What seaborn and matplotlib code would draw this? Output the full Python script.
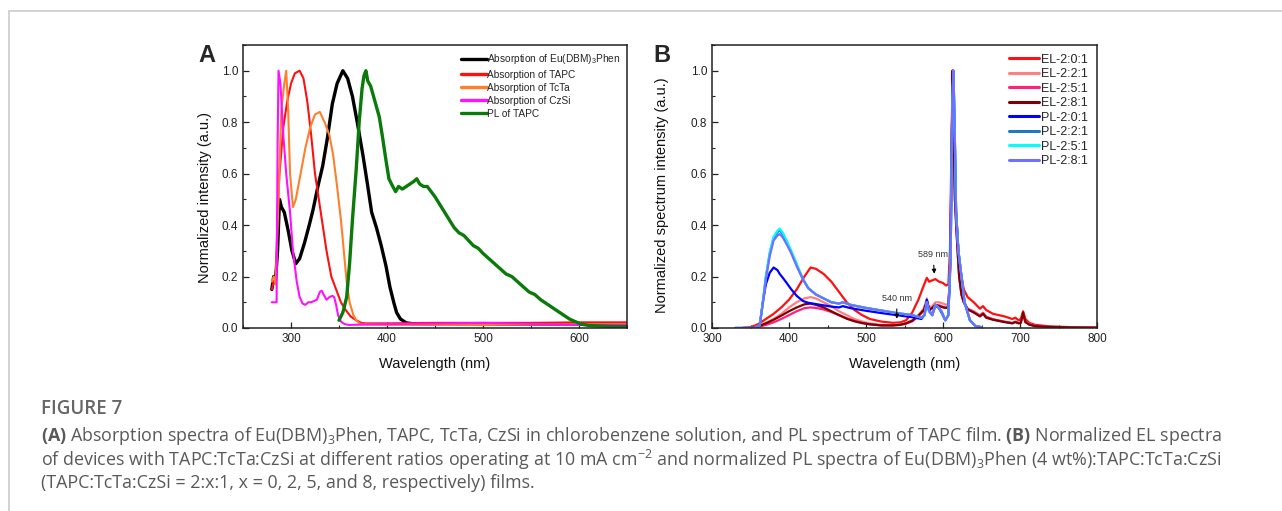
import numpy as np
import pandas as pd
import matplotlib
matplotlib.use("Agg")
import matplotlib.pyplot as plt
import seaborn as sns
from matplotlib.lines import Line2D
from matplotlib.ticker import MultipleLocator

# ------ DATA ------ #

# Panel A: absorption spectra + PL of TAPC
eu_x = [280, 282, 284, 286, 288, 290, 293, 297, 301, 305, 309, 314, 319, 323, 328, 333, 338, 343, 348, 354,
        359, 364, 369, 375, 380, 384, 389, 394, 399, 403, 407, 410, 414, 420, 430, 450, 500, 550, 600, 650]
eu_y = [0.15, 0.2, 0.19, 0.3, 0.5, 0.47, 0.45, 0.38, 0.3, 0.25, 0.27, 0.33, 0.4, 0.46, 0.55, 0.63, 0.74, 0.87, 0.95, 1.0,
        0.97, 0.9, 0.8, 0.67, 0.55, 0.45, 0.39, 0.32, 0.24, 0.16, 0.1, 0.06, 0.035, 0.02, 0.015, 0.015, 0.014, 0.015, 0.016, 0.016]

tapc_x = [280, 282, 284, 286, 288, 292, 296, 300, 304, 309, 313, 317, 321, 325, 329, 333, 337, 342, 347, 352,
          357, 362, 368, 373, 378, 400, 450, 500, 550, 600, 650]
tapc_y = [0.15, 0.18, 0.17, 0.45, 0.6, 0.78, 0.88, 0.95, 0.99, 1.0, 0.97, 0.88, 0.75, 0.6, 0.5, 0.4, 0.3, 0.2, 0.15, 0.1,
          0.07, 0.045, 0.03, 0.02, 0.018, 0.018, 0.02, 0.02, 0.02, 0.022, 0.022]

tcta_x = [280, 282, 284, 287, 290, 293, 295, 297, 299, 302, 305, 310, 315, 320, 325, 330, 335, 340, 344, 348,
          352, 355, 358, 361, 365, 368, 372, 400, 450, 500, 550, 600, 650]
tcta_y = [0.18, 0.2, 0.17, 0.5, 0.85, 0.95, 1.0, 0.85, 0.6, 0.47, 0.5, 0.6, 0.7, 0.78, 0.83, 0.84, 0.8, 0.75, 0.67, 0.55,
          0.42, 0.3, 0.18, 0.1, 0.05, 0.03, 0.015, 0.012, 0.012, 0.012, 0.013, 0.015, 0.015]

czsi_x = [280, 283, 285, 286, 287, 289, 292, 295, 299, 302, 306, 309, 312, 315, 318, 321, 324, 327, 330, 332,
          334, 337, 340, 343, 345, 347, 349, 352, 356, 360, 400, 450, 500, 550, 600, 650]
czsi_y = [0.1, 0.1, 0.1, 0.7, 1.0, 0.95, 0.75, 0.6, 0.45, 0.3, 0.18, 0.12, 0.095, 0.09, 0.1, 0.1, 0.105, 0.11, 0.14, 0.145,
          0.13, 0.11, 0.12, 0.125, 0.12, 0.09, 0.05, 0.025, 0.015, 0.012, 0.015, 0.017, 0.02, 0.016, 0.012, 0.012]

pl_x = [350, 354, 358, 361, 364, 368, 371, 374, 376, 378, 380, 383, 386, 389, 392, 395, 399, 402, 406, 409,
        412, 416, 420, 424, 428, 431, 434, 438, 442, 446, 450, 455, 460, 465, 470, 475, 480, 485, 490, 495,
        500, 506, 512, 518, 524, 530, 536, 542, 548, 554, 560, 566, 572, 578, 584, 590, 596, 602, 610, 620, 635, 650]
pl_y = [0.03, 0.06, 0.12, 0.25, 0.42, 0.62, 0.8, 0.93, 0.98, 1.0, 0.96, 0.94, 0.9, 0.86, 0.82, 0.75, 0.65, 0.58, 0.55, 0.53,
        0.55, 0.54, 0.55, 0.56, 0.57, 0.58, 0.56, 0.55, 0.55, 0.53, 0.51, 0.48, 0.45, 0.42, 0.39, 0.37, 0.36, 0.34, 0.32, 0.31,
        0.29, 0.27, 0.25, 0.23, 0.21, 0.2, 0.18, 0.16, 0.14, 0.13, 0.11, 0.095, 0.08, 0.065, 0.05, 0.035, 0.025, 0.015, 0.01, 0.008, 0.006, 0.005]

names_a = ["Absorption of Eu(DBM)$_3$Phen", "Absorption of TAPC", "Absorption of TcTa",
           "Absorption of CzSi", "PL of TAPC"]
colors_a = ["#000000", "#ff1010", "#ff7f2a", "#ff10ff", "#0a7a0a"]
widths_a = [2.4, 1.5, 1.5, 1.5, 2.4]

# Panel B: EL and PL spectra at TAPC:TcTa:CzSi = 2:x:1
el_x = [340, 350, 360, 370, 380, 390, 400, 410, 420, 428, 435, 445, 455, 465, 475, 485, 495, 505, 520, 535,
        545, 552, 560, 568, 575, 579, 582, 586, 590, 595, 600, 604, 607, 609, 611, 612.5, 614, 615.5, 617, 619,
        621, 624, 627, 632, 640, 648, 652, 656, 665, 680, 690, 694, 698, 701, 704, 707, 712, 720, 740, 770, 800]
el_201 = [0.0, 0.003, 0.015, 0.035, 0.055, 0.08, 0.11, 0.15, 0.2, 0.235, 0.23, 0.21, 0.18, 0.14, 0.1, 0.07, 0.05, 0.035, 0.025, 0.02,
          0.022, 0.03, 0.06, 0.11, 0.165, 0.195, 0.18, 0.185, 0.19, 0.18, 0.175, 0.165, 0.17, 0.3, 0.7, 1.0, 0.75, 0.55, 0.45, 0.35,
          0.25, 0.2, 0.15, 0.12, 0.1, 0.075, 0.085, 0.07, 0.055, 0.045, 0.035, 0.04, 0.03, 0.035, 0.065, 0.035, 0.02, 0.012, 0.006, 0.003, 0.002]
el_221 = [0.0, 0.0, 0.008, 0.02, 0.035, 0.055, 0.08, 0.1, 0.115, 0.12, 0.115, 0.1, 0.085, 0.065, 0.05, 0.035, 0.025, 0.018, 0.012, 0.012,
          0.015, 0.02, 0.03, 0.05, 0.075, 0.115, 0.08, 0.085, 0.1, 0.1, 0.095, 0.09, 0.095, 0.2, 0.6, 1.0, 0.7, 0.5, 0.4, 0.3,
          0.2, 0.13, 0.1, 0.075, 0.065, 0.05, 0.06, 0.045, 0.035, 0.025, 0.02, 0.025, 0.02, 0.022, 0.055, 0.025, 0.015, 0.008, 0.004, 0.002, 0.001]
el_251 = [0.0, 0.0, 0.004, 0.012, 0.022, 0.035, 0.05, 0.065, 0.077, 0.08, 0.078, 0.072, 0.062, 0.05, 0.038, 0.028, 0.02, 0.015, 0.01, 0.01,
          0.012, 0.017, 0.026, 0.045, 0.068, 0.105, 0.07, 0.075, 0.09, 0.088, 0.082, 0.078, 0.085, 0.2, 0.6, 1.0, 0.7, 0.5, 0.4, 0.3,
          0.2, 0.13, 0.1, 0.075, 0.062, 0.048, 0.058, 0.043, 0.033, 0.024, 0.019, 0.024, 0.019, 0.021, 0.052, 0.024, 0.014, 0.008, 0.004, 0.002, 0.001]
el_281 = [0.0, 0.0, 0.006, 0.018, 0.032, 0.048, 0.065, 0.08, 0.092, 0.095, 0.09, 0.08, 0.065, 0.05, 0.036, 0.026, 0.019, 0.014, 0.01, 0.01,
          0.013, 0.018, 0.028, 0.048, 0.07, 0.1, 0.072, 0.078, 0.09, 0.085, 0.08, 0.078, 0.082, 0.2, 0.6, 1.0, 0.72, 0.5, 0.42, 0.3,
          0.2, 0.13, 0.1, 0.072, 0.06, 0.045, 0.055, 0.04, 0.032, 0.023, 0.018, 0.023, 0.018, 0.02, 0.06, 0.023, 0.013, 0.007, 0.004, 0.002, 0.001]

pl_bx = [330, 355, 362, 366, 370, 375, 380, 385, 388, 392, 397, 403, 410, 418, 425, 435, 445, 455, 465, 470,
         480, 500, 520, 540, 560, 572, 576, 579, 582, 586, 590, 594, 598, 603, 607, 610, 612, 613.5, 615, 617,
         620, 624, 628, 635, 642, 650]
pl_201 = [0.0, 0.0, 0.01, 0.1, 0.17, 0.215, 0.235, 0.225, 0.21, 0.195, 0.175, 0.15, 0.125, 0.105, 0.098, 0.093, 0.088, 0.083, 0.08, 0.085,
          0.077, 0.067, 0.058, 0.05, 0.042, 0.035, 0.05, 0.11, 0.07, 0.05, 0.085, 0.08, 0.06, 0.03, 0.05, 0.3, 0.85, 1.0, 0.8, 0.45,
          0.3, 0.2, 0.1, 0.03, 0.008, 0.003]
pl_221 = [0.0, 0.0, 0.01, 0.1, 0.2, 0.29, 0.35, 0.372, 0.38, 0.365, 0.335, 0.295, 0.245, 0.19, 0.155, 0.13, 0.115, 0.1, 0.095, 0.1,
          0.09, 0.078, 0.068, 0.058, 0.05, 0.04, 0.05, 0.1, 0.065, 0.05, 0.09, 0.08, 0.065, 0.03, 0.05, 0.3, 0.85, 1.0, 0.8, 0.45,
          0.3, 0.2, 0.1, 0.03, 0.008, 0.003]
pl_251 = [0.0, 0.0, 0.01, 0.1, 0.2, 0.295, 0.355, 0.378, 0.386, 0.37, 0.34, 0.3, 0.25, 0.19, 0.155, 0.13, 0.115, 0.1, 0.095, 0.1,
          0.09, 0.078, 0.068, 0.058, 0.05, 0.04, 0.05, 0.1, 0.065, 0.05, 0.09, 0.08, 0.065, 0.03, 0.05, 0.3, 0.85, 1.0, 0.8, 0.45,
          0.3, 0.2, 0.1, 0.03, 0.008, 0.003]
pl_281 = [0.0, 0.0, 0.01, 0.095, 0.19, 0.28, 0.34, 0.36, 0.365, 0.352, 0.325, 0.29, 0.24, 0.19, 0.155, 0.13, 0.115, 0.1, 0.095, 0.1,
          0.09, 0.078, 0.068, 0.058, 0.05, 0.04, 0.05, 0.1, 0.065, 0.05, 0.09, 0.08, 0.065, 0.03, 0.05, 0.3, 0.85, 1.0, 0.8, 0.45,
          0.3, 0.2, 0.1, 0.03, 0.008, 0.003]

names_b = ["EL-2:0:1", "EL-2:2:1", "EL-2:5:1", "EL-2:8:1", "PL-2:0:1", "PL-2:2:1", "PL-2:5:1", "PL-2:8:1"]
colors_b = ["#ff1010", "#ff8080", "#ff2080", "#800000", "#0000ff", "#1f78c0", "#00ffff", "#7070ff"]

# ------ STYLE ------ #

sns.set_theme(style="ticks")
plt.rcParams["font.family"] = ["Liberation Sans", "DejaVu Sans"]
plt.rcParams["mathtext.fontset"] = "custom"
plt.rcParams["mathtext.rm"] = "Liberation Sans"
plt.rcParams["mathtext.default"] = "regular"
plt.rcParams["axes.edgecolor"] = "#222222"
plt.rcParams["axes.linewidth"] = 1.1

fig = plt.figure(figsize=(12.82, 5.11), dpi=100)
W, H = 1282, 511


def ax_rect(l, t, r, b):
    return [l / W, 1 - b / H, (r - l) / W, (b - t) / H]


ax_a = fig.add_axes(ax_rect(243, 45, 627, 328))
ax_b = fig.add_axes(ax_rect(712, 45, 1097, 328))

# ------ PANEL A ------ #

series_a = [(eu_x, eu_y), (tapc_x, tapc_y), (tcta_x, tcta_y), (czsi_x, czsi_y), (pl_x, pl_y)]
for (xs, ys), name, c, lw in zip(series_a, names_a, colors_a, widths_a):
    df = pd.DataFrame({"Wavelength": xs, "Intensity": ys})
    sns.lineplot(data=df, x="Wavelength", y="Intensity", ax=ax_a, color=c, lw=lw,
                 label=name, estimator=None, sort=False)

# ------ PANEL B ------ #

series_b = [(el_x, el_201), (el_x, el_221), (el_x, el_251), (el_x, el_281),
            (pl_bx, pl_201), (pl_bx, pl_221), (pl_bx, pl_251), (pl_bx, pl_281)]
for (xs, ys), name, c in zip(series_b, names_b, colors_b):
    df = pd.DataFrame({"Wavelength": xs, "Intensity": ys})
    sns.lineplot(data=df, x="Wavelength", y="Intensity", ax=ax_b, color=c, lw=1.6,
                 label=name, estimator=None, sort=False)

ax_b.annotate("589 nm", xy=(589, 0.2), xytext=(587, 0.285), ha="center", va="center",
              fontsize=6.5, color="#333333",
              arrowprops=dict(arrowstyle="-|>", color="black", lw=0.8, mutation_scale=6))
ax_b.annotate("540 nm", xy=(540, 0.025), xytext=(540, 0.115), ha="center", va="center",
              fontsize=6.5, color="#333333",
              arrowprops=dict(arrowstyle="-|>", color="black", lw=0.8, mutation_scale=6))

# ------ AXES ------ #

for ax, xlim, ylab in [(ax_a, (250, 650), "Normalized intensity (a.u.)"),
                       (ax_b, (300, 800), "Normalized spectrum intensity (a.u.)")]:
    ax.set_xlim(*xlim)
    ax.set_ylim(0, 1.1)
    ax.xaxis.set_major_locator(MultipleLocator(100))
    ax.xaxis.set_minor_locator(MultipleLocator(50))
    ax.yaxis.set_minor_locator(MultipleLocator(0.1))
    ax.set_yticks([0, 0.2, 0.4, 0.6, 0.8, 1.0])
    ax.yaxis.set_major_formatter(matplotlib.ticker.FormatStrFormatter("%.1f"))
    ax.tick_params(which="both", direction="in", labelsize=8.5, colors="#222222",
                   top=False, right=False)
    ax.tick_params(which="major", length=4, width=0.9)
    ax.tick_params(which="minor", length=2.5, width=0.8)
    ax.set_xlabel("Wavelength (nm)", fontsize=10.5, color="#111111", labelpad=9)
    ax.set_ylabel(ylab, fontsize=10.5, color="#111111")
    for s in ax.spines.values():
        s.set_visible(True)

ax_a.yaxis.set_label_coords(-0.08, 0.46)
ax_b.yaxis.set_label_coords(-0.112, 0.47)

leg_a = ax_a.legend(loc="upper right", bbox_to_anchor=(1.0, 0.995), frameon=False, fontsize=7.3,
                    handlelength=2.6, handletextpad=0.05, labelspacing=0.3, borderaxespad=0.2)
for h in leg_a.get_lines():
    h.set_linewidth(2.4)

leg_b = ax_b.legend(loc="upper right", bbox_to_anchor=(1.0, 1.0), frameon=False, fontsize=9,
                    handlelength=2.4, handletextpad=0.15, labelspacing=0.2, borderaxespad=0.3)
for h in leg_b.get_lines():
    h.set_linewidth(2.2)

fig.text(207 / W, 1 - 55 / H, "A", fontsize=17, fontweight="bold", ha="center", va="center")
fig.text(662 / W, 1 - 55 / H, "B", fontsize=17, fontweight="bold", ha="center", va="center")

# ------ PAGE FRAME + CAPTION ------ #

fig.add_artist(Line2D([9 / W, 1.0], [1 - 11 / H, 1 - 11 / H], color="#cccccc", lw=1.2))
fig.add_artist(Line2D([9 / W, 9 / W], [0.0, 1 - 11 / H], color="#cccccc", lw=1.2))

cap_font = ["Open Sans", "DejaVu Sans"]
plt.rcParams["mathtext.rm"] = "Open Sans"
plt.rcParams["mathtext.bf"] = "Open Sans:bold"
cap_color = "#595959"

fig.text(41 / W, 1 - 409 / H, "FIGURE 7", fontsize=13.5, fontweight="semibold",
         family=cap_font, color="#666666", va="center")
caption = [
    r"$\mathbf{(A)}$ Absorption spectra of Eu(DBM)$_3$Phen, TAPC, TcTa, CzSi in chlorobenzene solution, "
    r"and PL spectrum of TAPC film. $\mathbf{(B)}$ Normalized EL spectra",
    r"of devices with TAPC:TcTa:CzSi at different ratios operating at 10 mA cm$^{-2}$ and normalized PL "
    r"spectra of Eu(DBM)$_3$Phen (4 wt%):TAPC:TcTa:CzSi",
    r"(TAPC:TcTa:CzSi = 2:x:1, x = 0, 2, 5, and 8, respectively) films.",
]
for i, line in enumerate(caption):
    fig.text(41 / W, 1 - (436 + 23.5 * i) / H, line, fontsize=12.9, family=cap_font,
             color=cap_color, va="center")

fig.savefig("out.png", dpi=100, facecolor="white")
